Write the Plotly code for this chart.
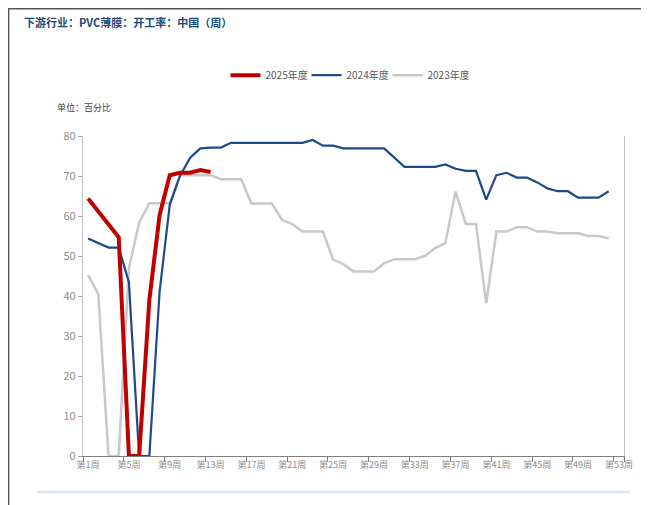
import plotly.graph_objects as go

weeks = [f"第{i}周" for i in range(1, 54)]
tick_labels = ["第1周", "第5周", "第9周", "第13周", "第17周", "第21周", "第25周",
               "第29周", "第33周", "第37周", "第41周", "第45周", "第49周", "第53周"]

y2025 = [64.4, 61.2, 57.9, 54.7, 0, 0, 39.0, 60.2, 70.2, 70.8, 70.8, 71.5, 71.0]

y2024 = [54.4, 53.2, 52.1, 52.1, 43.4, 0, 0, 41.0, 62.8, 70.0, 74.6, 76.9, 77.1,
         77.1, 78.3, 78.3, 78.3, 78.3, 78.3, 78.3, 78.3, 78.3, 79.0, 77.6, 77.6,
         76.9, 76.9, 76.9, 76.9, 76.9, 74.6, 72.3, 72.3, 72.3, 72.3, 72.9, 71.8,
         71.3, 71.3, 64.1, 70.2, 70.8, 69.6, 69.6, 68.4, 66.9, 66.2, 66.2, 64.6,
         64.6, 64.6, 66.2]

y2023 = [45.2, 40.5, 0, 0, 47.0, 58.4, 63.2, 63.2, 63.2, 70.2, 70.2, 70.2, 70.2,
         69.2, 69.2, 69.2, 63.1, 63.1, 63.1, 59.0, 58.0, 56.1, 56.1, 56.1, 49.1,
         48.0, 46.1, 46.1, 46.1, 48.2, 49.2, 49.2, 49.2, 50.0, 52.0, 53.2, 66.1,
         58.0, 58.0, 38.2, 56.1, 56.1, 57.2, 57.2, 56.1, 56.1, 55.7, 55.7, 55.7,
         55.0, 55.0, 54.4]

series = [
    ("2023年度", y2023, "#C8C8C8", 2.5),
    ("2024年度", y2024, "#1D4A8A", 2.2),
    ("2025年度", y2025, "#C00000", 4),
]

FONT = "Liberation Sans Narrow, Arial Narrow, Noto Sans CJK SC, sans-serif"

fig = go.Figure()
for name, vals, color, width in series:
    fig.add_trace(go.Scatter(
        x=weeks[:len(vals)], y=vals, name=name, mode="lines",
        line=dict(color=color, width=width),
    ))

fig.update_layout(
    width=641, height=497,
    margin=dict(l=75, r=25, t=128, b=49),
    paper_bgcolor="white", plot_bgcolor="white",
    font=dict(family=FONT, color="#7F7F7F"),
    showlegend=True,
    legend=dict(orientation="h", x=0.488, xanchor="center", y=1.19, yanchor="middle",
                traceorder="reversed", font=dict(size=10, color="#595959"),
                itemwidth=30, entrywidth=36),
    xaxis=dict(type="category", categoryorder="array", categoryarray=weeks,
               range=[-0.5, 52.5],
               tickmode="array", tickvals=tick_labels, ticktext=tick_labels,
               tickson="boundaries", ticks="outside", ticklen=5, tickcolor="#7F7F7F",
               showline=True, linecolor="#7F7F7F", linewidth=1,
               showgrid=False, zeroline=False,
               tickfont=dict(size=9, color="#8C8C8C"), tickangle=0),
    yaxis=dict(range=[0, 80], dtick=10, ticks="outside", ticklen=4,
               tickcolor="#A6A6A6", showline=True, linecolor="#BFBFBF",
               linewidth=1.3, mirror=True,
               showgrid=False, zeroline=False,
               tickfont=dict(size=11, color="#8C8C8C")),
)

fig.add_annotation(text="<b>下游行业：PVC薄膜：开工率：中国（周）</b>",
                   xref="paper", yref="paper", x=-0.113, y=1.356,
                   xanchor="left", yanchor="middle", showarrow=False,
                   font=dict(size=11, color="#1B4A7A",
                             family="Noto Sans CJK SC, sans-serif"))
fig.add_annotation(text="单位：百分比", xref="paper", yref="paper",
                   x=-0.052, y=1.09, xanchor="left", yanchor="middle",
                   showarrow=False,
                   font=dict(size=9, color="#404040",
                             family="Noto Sans CJK SC, sans-serif"))

# frame lines of the screenshot
fig.add_shape(type="line", xref="paper", yref="paper",
              x0=-0.14, x1=1.06, y0=1.398, y1=1.398,
              line=dict(color="#555555", width=1.5))
fig.add_shape(type="line", xref="paper", yref="paper",
              x0=-0.1375, x1=-0.1375, y0=1.4, y1=-0.155,
              line=dict(color="#555555", width=1.5))
fig.add_shape(type="line", xref="paper", yref="paper",
              x0=-0.085, x1=1.011, y0=-0.1125, y1=-0.1125,
              line=dict(color="#DCE6F2", width=2.5))

fig.write_html("out.html")
